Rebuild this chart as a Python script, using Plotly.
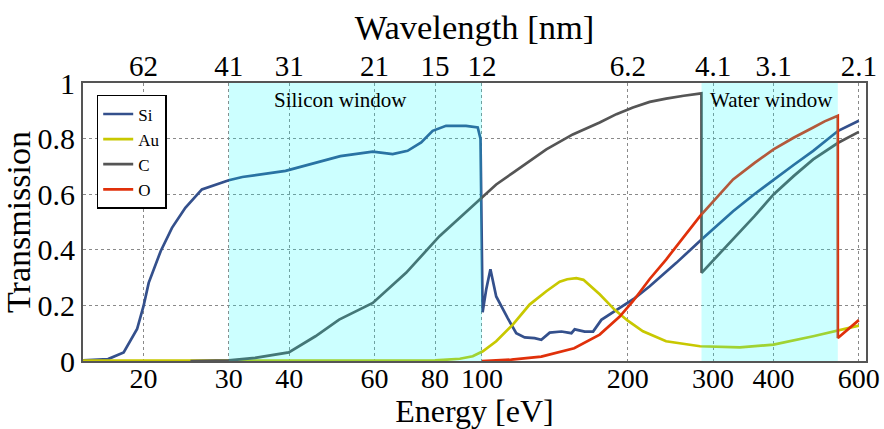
import plotly.graph_objects as go

# ---------------- data ----------------
si_E = [15, 16.9, 18.2, 19.4, 20.0, 20.5, 21.7, 22.9, 24.4, 26.4, 30, 32, 39.3, 45, 51, 59.5, 65.4,
        70.2, 74.9, 79.1, 84.3, 92.7, 98.0, 99.3, 99.8, 100.3, 102, 104.1, 107, 109.6, 113, 117.7,
        122.5, 128.4, 132.6, 138, 145.9, 153, 155.4, 163, 169.6, 176.4, 188, 206.8, 222, 252, 284,
        330, 365, 400, 440, 483, 544, 600]
si_T = [0.002, 0.007, 0.031, 0.115, 0.197, 0.281, 0.395, 0.479, 0.551, 0.617, 0.650, 0.662, 0.684,
        0.712, 0.737, 0.753, 0.744, 0.756, 0.786, 0.828, 0.846, 0.846, 0.840, 0.80, 0.50, 0.175,
        0.256, 0.330, 0.232, 0.196, 0.154, 0.100, 0.085, 0.082, 0.076, 0.102, 0.106, 0.100, 0.114,
        0.106, 0.106, 0.148, 0.178, 0.226, 0.269, 0.353, 0.437, 0.539, 0.600, 0.653, 0.705, 0.756,
        0.828, 0.864]

au_E = [15, 30, 60, 80, 90, 95.7, 100.4, 107, 115.8, 125.4, 135.8, 144.7, 150, 156.6, 162, 167,
        175, 188, 200, 215, 240, 282, 341, 400, 483, 600]
au_T = [0.001, 0.001, 0.001, 0.002, 0.008, 0.017, 0.035, 0.071, 0.131, 0.203, 0.251, 0.285, 0.294,
        0.298, 0.292, 0.272, 0.240, 0.184, 0.145, 0.107, 0.071, 0.053, 0.049, 0.059, 0.089, 0.127]

c_E = [25, 30, 34, 39.9, 45.3, 50.7, 59.5, 69.7, 81.7, 100.4, 107, 115.8, 135.8, 154, 175, 189.5,
       205, 222, 240, 261, 283.9, 284.1, 330, 365, 400, 440, 483, 544, 600]
c_T = [0.0, 0.002, 0.011, 0.031, 0.089, 0.149, 0.209, 0.317, 0.449, 0.593, 0.635, 0.677, 0.761,
       0.815, 0.858, 0.888, 0.912, 0.932, 0.944, 0.954, 0.963, 0.317, 0.437, 0.520, 0.599, 0.665,
       0.725, 0.785, 0.824]

o_E = [100, 115, 132.6, 155, 175, 192.5, 205, 222, 240, 261, 282, 330, 365, 400, 440, 483, 510,
       542.9, 543.1, 600]
o_T = [0.0, 0.005, 0.016, 0.046, 0.095, 0.160, 0.215, 0.295, 0.365, 0.445, 0.521, 0.653, 0.712,
       0.761, 0.803, 0.840, 0.862, 0.882, 0.083, 0.147]

energy_ticks = [20, 30, 40, 60, 80, 100, 200, 300, 400, 600]
wavelength_labels = ["62", "41", "31", "21", "15", "12", "6.2", "4.1", "3.1", "2.1"]
y_ticks = [0, 0.2, 0.4, 0.6, 0.8, 1]
y_labels = ["0", "0.2", "0.4", "0.6", "0.8", "1"]

silicon_window = (30, 100)
water_window = (284, 543)

FONT = "Liberation Serif"
X_RANGE = [1.1761, 2.793]

fig = go.Figure()
series = [("Si", si_E, si_T, "#34508c"), ("Au", au_E, au_T, "#c8c800"),
          ("C", c_E, c_T, "#555555"), ("O", o_E, o_T, "#e0300a")]
for name, xs, ys, col in series:
    fig.add_trace(go.Scatter(x=xs, y=ys, mode="lines", name=name,
                             line=dict(color=col, width=2.7)))
# invisible trace to attach the top (wavelength) axis
fig.add_trace(go.Scatter(x=energy_ticks, y=[None] * len(energy_ticks), xaxis="x2",
                         showlegend=False, hoverinfo="skip"))

for (a, b) in (silicon_window, water_window):
    fig.add_shape(type="rect", xref="x", yref="paper", x0=a, x1=b, y0=0, y1=1,
                  fillcolor="rgba(0,255,255,0.2)", line=dict(width=0), layer="above")

fig.add_annotation(x=0.329, y=0.939, xref="paper", yref="paper", text="Silicon window",
                   xanchor="center", yanchor="middle",
                   showarrow=False, font=dict(family=FONT, size=21, color="black"))
fig.add_annotation(x=0.8796, y=0.939, xref="paper", yref="paper", text="Water window",
                   xanchor="center", yanchor="middle",
                   showarrow=False, font=dict(family=FONT, size=21, color="black"))

axis_common = dict(showgrid=True, gridcolor="#8a8a8a", griddash="dot", gridwidth=1,
                   ticks="", zeroline=False, automargin=False)

fig.update_layout(
    width=884, height=429,
    margin=dict(l=83, r=18, t=83, b=68),
    paper_bgcolor="white", plot_bgcolor="white",
    font=dict(family=FONT, color="black"),
    xaxis=dict(type="log", range=X_RANGE, tickvals=energy_ticks,
               ticktext=[str(v) for v in energy_ticks], ticklabelstandoff=-9,
               tickfont=dict(family=FONT, size=28, color="black"),
               showline=True, linecolor="#555555", linewidth=2, mirror=True,
               title=dict(text="Energy [eV]", font=dict(family=FONT, size=32), standoff=8),
               **axis_common),
    xaxis2=dict(type="log", range=X_RANGE, overlaying="x", side="top",
                tickvals=energy_ticks, ticktext=wavelength_labels, showgrid=False,
                showline=False, ticks="", zeroline=False, automargin=False,
                tickfont=dict(family=FONT, size=29, color="black"),
                title=dict(text="Wavelength [nm]", font=dict(family=FONT, size=34.5), standoff=0)),
    yaxis=dict(range=[0, 1], tickvals=y_ticks, ticktext=y_labels,
               tickfont=dict(family=FONT, size=30, color="black"),
               showline=True, linecolor="#555555", linewidth=2, mirror=True,
               title=dict(text="Transmission", font=dict(family=FONT, size=34), standoff=4),
               **axis_common),
    legend=dict(x=0.0175, y=0.957, xanchor="left", yanchor="top",
                bgcolor="white", bordercolor="black", borderwidth=1.5,
                font=dict(family=FONT, size=17, color="black"),
                tracegroupgap=0, itemwidth=30),
    showlegend=True,
)

fig.write_html("out.html")
